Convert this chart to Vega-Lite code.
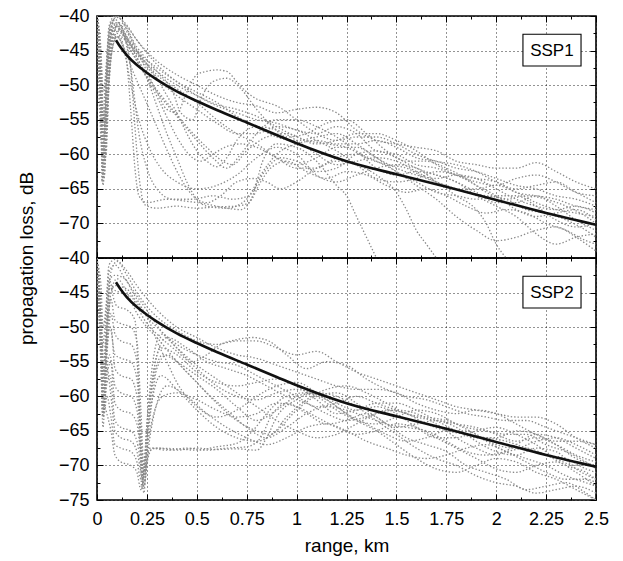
{
"$schema": "https://vega.github.io/schema/vega-lite/v6.json",
"autosize": {"type": "pad"},
"padding": {"left": 16, "top": 6, "right": 5, "bottom": 5},
"bounds": "flush",
"spacing": 0,
"config": {"view": {"stroke": "#000", "strokeWidth": 1.6}, "font": "Liberation Sans"},
"datasets": {
"k": [{"x":0.095,"y":-43.5},{"x":0.12,"y":-44.6},{"x":0.15,"y":-45.7},{"x":0.2,"y":-47.1},{"x":0.25,"y":-48.2},{"x":0.3,"y":-49.2},{"x":0.4,"y":-50.9},{"x":0.5,"y":-52.3},{"x":0.6,"y":-53.6},{"x":0.75,"y":-55.4},{"x":0.9,"y":-57.2},{"x":1.0,"y":-58.4},{"x":1.25,"y":-61.0},{"x":1.5,"y":-62.9},{"x":1.75,"y":-64.7},{"x":2.0,"y":-66.6},{"x":2.25,"y":-68.5},{"x":2.5,"y":-70.2}],
"t": [
{"c":1,"x":0,"y":-41},{"c":1,"x":0.01,"y":-46},{"c":1,"x":0.02,"y":-55},{"c":1,"x":0.03,"y":-62},{"c":1,"x":0.04,"y":-56},{"c":1,"x":0.05,"y":-47},{"c":1,"x":0.07,"y":-41},{"c":1,"x":0.1,"y":-40.2},{"c":1,"x":0.15,"y":-41.5},{"c":1,"x":0.2,"y":-43.5},{"c":1,"x":0.3,"y":-46.5},{"c":1,"x":0.4,"y":-48.5},{"c":1,"x":0.5,"y":-50},{"c":1,"x":0.6,"y":-51.5},{"c":1,"x":0.7,"y":-52.5},{"c":1,"x":0.8,"y":-53},{"c":1,"x":0.9,"y":-54},{"c":1,"x":1.0,"y":-53.5},{"c":1,"x":1.1,"y":-53.2},{"c":1,"x":1.2,"y":-54},{"c":1,"x":1.3,"y":-56.5},{"c":1,"x":1.4,"y":-58},{"c":1,"x":1.5,"y":-58.5},{"c":1,"x":1.6,"y":-59},{"c":1,"x":1.7,"y":-59.5},{"c":1,"x":1.8,"y":-61},{"c":1,"x":1.9,"y":-61.5},{"c":1,"x":2.0,"y":-62},{"c":1,"x":2.1,"y":-62},{"c":1,"x":2.2,"y":-61.2},{"c":1,"x":2.3,"y":-62.5},{"c":1,"x":2.4,"y":-64},{"c":1,"x":2.5,"y":-65},
{"c":2,"x":0,"y":-40},{"c":2,"x":0.01,"y":-44},{"c":2,"x":0.02,"y":-52},{"c":2,"x":0.025,"y":-64},{"c":2,"x":0.035,"y":-58},{"c":2,"x":0.05,"y":-49},{"c":2,"x":0.07,"y":-43},{"c":2,"x":0.1,"y":-41},{"c":2,"x":0.15,"y":-43},{"c":2,"x":0.2,"y":-45},{"c":2,"x":0.3,"y":-47.5},{"c":2,"x":0.4,"y":-49.5},{"c":2,"x":0.5,"y":-51.5},{"c":2,"x":0.6,"y":-53},{"c":2,"x":0.7,"y":-54},{"c":2,"x":0.8,"y":-55},{"c":2,"x":0.9,"y":-55.5},{"c":2,"x":1.0,"y":-56.5},{"c":2,"x":1.1,"y":-57},{"c":2,"x":1.2,"y":-56},{"c":2,"x":1.3,"y":-57},{"c":2,"x":1.4,"y":-59.5},{"c":2,"x":1.5,"y":-60},{"c":2,"x":1.6,"y":-61.5},{"c":2,"x":1.7,"y":-62},{"c":2,"x":1.8,"y":-63},{"c":2,"x":1.9,"y":-63.5},{"c":2,"x":2.0,"y":-64},{"c":2,"x":2.1,"y":-65.5},{"c":2,"x":2.2,"y":-66},{"c":2,"x":2.3,"y":-66.5},{"c":2,"x":2.4,"y":-67.5},{"c":2,"x":2.5,"y":-68},
{"c":3,"x":0,"y":-42},{"c":3,"x":0.015,"y":-50},{"c":3,"x":0.03,"y":-60},{"c":3,"x":0.045,"y":-52},{"c":3,"x":0.06,"y":-44},{"c":3,"x":0.09,"y":-40.5},{"c":3,"x":0.13,"y":-42},{"c":3,"x":0.2,"y":-46},{"c":3,"x":0.27,"y":-49.5},{"c":3,"x":0.35,"y":-52.5},{"c":3,"x":0.45,"y":-56},{"c":3,"x":0.55,"y":-59},{"c":3,"x":0.63,"y":-61},{"c":3,"x":0.68,"y":-61.5},{"c":3,"x":0.75,"y":-59.5},{"c":3,"x":0.85,"y":-57.5},{"c":3,"x":0.95,"y":-57},{"c":3,"x":1.05,"y":-58},{"c":3,"x":1.15,"y":-58.5},{"c":3,"x":1.25,"y":-59},{"c":3,"x":1.35,"y":-60.5},{"c":3,"x":1.45,"y":-61.5},{"c":3,"x":1.55,"y":-62},{"c":3,"x":1.65,"y":-63.5},{"c":3,"x":1.75,"y":-64.5},{"c":3,"x":1.85,"y":-65.5},{"c":3,"x":1.95,"y":-66},{"c":3,"x":2.05,"y":-66.5},{"c":3,"x":2.15,"y":-68},{"c":3,"x":2.25,"y":-68.5},{"c":3,"x":2.35,"y":-69.5},{"c":3,"x":2.45,"y":-71},{"c":3,"x":2.5,"y":-72},
{"c":4,"x":0,"y":-43},{"c":4,"x":0.02,"y":-58},{"c":4,"x":0.035,"y":-63},{"c":4,"x":0.05,"y":-55},{"c":4,"x":0.07,"y":-45},{"c":4,"x":0.1,"y":-41.5},{"c":4,"x":0.15,"y":-44},{"c":4,"x":0.22,"y":-47.5},{"c":4,"x":0.3,"y":-51},{"c":4,"x":0.4,"y":-54.5},{"c":4,"x":0.5,"y":-58},{"c":4,"x":0.58,"y":-60.5},{"c":4,"x":0.65,"y":-62},{"c":4,"x":0.72,"y":-60},{"c":4,"x":0.8,"y":-57},{"c":4,"x":0.9,"y":-55},{"c":4,"x":1.0,"y":-55},{"c":4,"x":1.1,"y":-56},{"c":4,"x":1.2,"y":-57.5},{"c":4,"x":1.3,"y":-59.5},{"c":4,"x":1.4,"y":-62},{"c":4,"x":1.5,"y":-63},{"c":4,"x":1.6,"y":-62.5},{"c":4,"x":1.7,"y":-63},{"c":4,"x":1.8,"y":-64},{"c":4,"x":1.9,"y":-65.5},{"c":4,"x":2.0,"y":-67},{"c":4,"x":2.1,"y":-67},{"c":4,"x":2.2,"y":-66},{"c":4,"x":2.3,"y":-67.5},{"c":4,"x":2.4,"y":-69.5},{"c":4,"x":2.5,"y":-71},
{"c":5,"x":0,"y":-40.5},{"c":5,"x":0.02,"y":-51},{"c":5,"x":0.035,"y":-60},{"c":5,"x":0.05,"y":-50},{"c":5,"x":0.08,"y":-42},{"c":5,"x":0.12,"y":-42},{"c":5,"x":0.15,"y":-44.5},{"c":5,"x":0.17,"y":-48},{"c":5,"x":0.19,"y":-56},{"c":5,"x":0.21,"y":-63},{"c":5,"x":0.24,"y":-67.3},{"c":5,"x":0.3,"y":-67.8},{"c":5,"x":0.4,"y":-67.5},{"c":5,"x":0.5,"y":-67.8},{"c":5,"x":0.6,"y":-67.6},{"c":5,"x":0.7,"y":-67.5},{"c":5,"x":0.76,"y":-67},{"c":5,"x":0.82,"y":-64},{"c":5,"x":0.87,"y":-62},{"c":5,"x":0.95,"y":-61},{"c":5,"x":1.05,"y":-62.5},{"c":5,"x":1.15,"y":-63.5},{"c":5,"x":1.25,"y":-62.5},{"c":5,"x":1.35,"y":-63},{"c":5,"x":1.45,"y":-64.5},{"c":5,"x":1.55,"y":-65.5},{"c":5,"x":1.65,"y":-65},{"c":5,"x":1.75,"y":-66},{"c":5,"x":1.85,"y":-67.5},{"c":5,"x":1.95,"y":-68.5},{"c":5,"x":2.05,"y":-68},{"c":5,"x":2.15,"y":-68.5},{"c":5,"x":2.25,"y":-70},{"c":5,"x":2.35,"y":-71},{"c":5,"x":2.45,"y":-72.5},{"c":5,"x":2.5,"y":-73},
{"c":6,"x":0,"y":-41.5},{"c":6,"x":0.02,"y":-53},{"c":6,"x":0.03,"y":-62},{"c":6,"x":0.045,"y":-54},{"c":6,"x":0.07,"y":-44},{"c":6,"x":0.1,"y":-42.5},{"c":6,"x":0.13,"y":-44},{"c":6,"x":0.15,"y":-47},{"c":6,"x":0.17,"y":-54},{"c":6,"x":0.19,"y":-62},{"c":6,"x":0.21,"y":-66},{"c":6,"x":0.25,"y":-67},{"c":6,"x":0.35,"y":-66.5},{"c":6,"x":0.45,"y":-66.8},{"c":6,"x":0.55,"y":-67.2},{"c":6,"x":0.65,"y":-67.8},{"c":6,"x":0.72,"y":-68},{"c":6,"x":0.78,"y":-66},{"c":6,"x":0.83,"y":-61},{"c":6,"x":0.9,"y":-58.5},{"c":6,"x":1.0,"y":-59},{"c":6,"x":1.1,"y":-61},{"c":6,"x":1.2,"y":-64.5},{"c":6,"x":1.25,"y":-66},{"c":6,"x":1.3,"y":-69},{"c":6,"x":1.35,"y":-72},{"c":6,"x":1.4,"y":-75},
{"c":7,"x":0,"y":-40},{"c":7,"x":0.015,"y":-47},{"c":7,"x":0.03,"y":-57},{"c":7,"x":0.04,"y":-61},{"c":7,"x":0.055,"y":-51},{"c":7,"x":0.08,"y":-43},{"c":7,"x":0.11,"y":-41},{"c":7,"x":0.15,"y":-43.5},{"c":7,"x":0.2,"y":-46},{"c":7,"x":0.25,"y":-49},{"c":7,"x":0.3,"y":-53},{"c":7,"x":0.35,"y":-57},{"c":7,"x":0.4,"y":-60.5},{"c":7,"x":0.45,"y":-64},{"c":7,"x":0.5,"y":-66.5},{"c":7,"x":0.55,"y":-67.5},{"c":7,"x":0.65,"y":-67.8},{"c":7,"x":0.75,"y":-66.5},{"c":7,"x":0.82,"y":-63},{"c":7,"x":0.9,"y":-60},{"c":7,"x":1.0,"y":-58.5},{"c":7,"x":1.1,"y":-58},{"c":7,"x":1.2,"y":-58.5},{"c":7,"x":1.3,"y":-58.5},{"c":7,"x":1.4,"y":-58},{"c":7,"x":1.5,"y":-59},{"c":7,"x":1.6,"y":-60.5},{"c":7,"x":1.7,"y":-61},{"c":7,"x":1.8,"y":-62},{"c":7,"x":1.9,"y":-62.5},{"c":7,"x":2.0,"y":-63.5},{"c":7,"x":2.1,"y":-64.5},{"c":7,"x":2.2,"y":-65},{"c":7,"x":2.3,"y":-66},{"c":7,"x":2.4,"y":-66.5},{"c":7,"x":2.5,"y":-67.5},
{"c":8,"x":0,"y":-41},{"c":8,"x":0.02,"y":-49},{"c":8,"x":0.035,"y":-58},{"c":8,"x":0.05,"y":-53},{"c":8,"x":0.07,"y":-46},{"c":8,"x":0.1,"y":-43},{"c":8,"x":0.14,"y":-45},{"c":8,"x":0.18,"y":-48},{"c":8,"x":0.24,"y":-52},{"c":8,"x":0.3,"y":-56},{"c":8,"x":0.36,"y":-60},{"c":8,"x":0.42,"y":-63.5},{"c":8,"x":0.48,"y":-66},{"c":8,"x":0.55,"y":-67},{"c":8,"x":0.62,"y":-66},{"c":8,"x":0.7,"y":-64},{"c":8,"x":0.78,"y":-63.5},{"c":8,"x":0.85,"y":-64},{"c":8,"x":0.92,"y":-65},{"c":8,"x":1.0,"y":-64},{"c":8,"x":1.1,"y":-62},{"c":8,"x":1.2,"y":-61},{"c":8,"x":1.3,"y":-61.5},{"c":8,"x":1.4,"y":-63},{"c":8,"x":1.5,"y":-65.5},{"c":8,"x":1.55,"y":-68},{"c":8,"x":1.6,"y":-71},{"c":8,"x":1.65,"y":-73},{"c":8,"x":1.7,"y":-75},
{"c":9,"x":0,"y":-40},{"c":9,"x":0.01,"y":-42},{"c":9,"x":0.02,"y":-48},{"c":9,"x":0.03,"y":-55},{"c":9,"x":0.04,"y":-50},{"c":9,"x":0.06,"y":-43},{"c":9,"x":0.1,"y":-40},{"c":9,"x":0.15,"y":-42},{"c":9,"x":0.2,"y":-45},{"c":9,"x":0.25,"y":-48},{"c":9,"x":0.3,"y":-51},{"c":9,"x":0.35,"y":-53.5},{"c":9,"x":0.4,"y":-54},{"c":9,"x":0.45,"y":-51},{"c":9,"x":0.5,"y":-48.5},{"c":9,"x":0.55,"y":-48},{"c":9,"x":0.6,"y":-47.8},{"c":9,"x":0.65,"y":-48},{"c":9,"x":0.7,"y":-49.5},{"c":9,"x":0.75,"y":-51},{"c":9,"x":0.8,"y":-52},{"c":9,"x":0.85,"y":-52.5},{"c":9,"x":0.9,"y":-53},{"c":9,"x":1.0,"y":-55},{"c":9,"x":1.1,"y":-57},{"c":9,"x":1.2,"y":-58},{"c":9,"x":1.3,"y":-57.5},{"c":9,"x":1.4,"y":-57.5},{"c":9,"x":1.5,"y":-58.5},{"c":9,"x":1.6,"y":-60},{"c":9,"x":1.7,"y":-61},{"c":9,"x":1.8,"y":-61.5},{"c":9,"x":1.9,"y":-62.5},{"c":9,"x":2.0,"y":-64},{"c":9,"x":2.1,"y":-65},{"c":9,"x":2.2,"y":-64.5},{"c":9,"x":2.3,"y":-64},{"c":9,"x":2.4,"y":-65.5},{"c":9,"x":2.5,"y":-67},
{"c":10,"x":0,"y":-40.5},{"c":10,"x":0.02,"y":-46},{"c":10,"x":0.035,"y":-56},{"c":10,"x":0.05,"y":-48},{"c":10,"x":0.08,"y":-41},{"c":10,"x":0.12,"y":-41},{"c":10,"x":0.2,"y":-44.5},{"c":10,"x":0.3,"y":-48},{"c":10,"x":0.38,"y":-51},{"c":10,"x":0.42,"y":-54},{"c":10,"x":0.48,"y":-55},{"c":10,"x":0.52,"y":-52},{"c":10,"x":0.58,"y":-49.5},{"c":10,"x":0.65,"y":-49},{"c":10,"x":0.72,"y":-50.5},{"c":10,"x":0.8,"y":-53.5},{"c":10,"x":0.88,"y":-56},{"c":10,"x":0.95,"y":-57.5},{"c":10,"x":1.05,"y":-57},{"c":10,"x":1.15,"y":-55.5},{"c":10,"x":1.25,"y":-55},{"c":10,"x":1.35,"y":-57},{"c":10,"x":1.45,"y":-59.5},{"c":10,"x":1.55,"y":-61},{"c":10,"x":1.65,"y":-61},{"c":10,"x":1.75,"y":-62},{"c":10,"x":1.85,"y":-63.5},{"c":10,"x":1.95,"y":-65.5},{"c":10,"x":2.05,"y":-66.5},{"c":10,"x":2.15,"y":-66},{"c":10,"x":2.25,"y":-66.5},{"c":10,"x":2.35,"y":-67.5},{"c":10,"x":2.45,"y":-69},{"c":10,"x":2.5,"y":-70},
{"c":11,"x":0,"y":-42},{"c":11,"x":0.02,"y":-54},{"c":11,"x":0.03,"y":-64.5},{"c":11,"x":0.045,"y":-57},{"c":11,"x":0.065,"y":-47},{"c":11,"x":0.1,"y":-43},{"c":11,"x":0.14,"y":-45.5},{"c":11,"x":0.17,"y":-50},{"c":11,"x":0.21,"y":-55},{"c":11,"x":0.26,"y":-59},{"c":11,"x":0.32,"y":-62},{"c":11,"x":0.4,"y":-64},{"c":11,"x":0.5,"y":-65},{"c":11,"x":0.6,"y":-64.5},{"c":11,"x":0.7,"y":-63},{"c":11,"x":0.8,"y":-60.5},{"c":11,"x":0.9,"y":-59},{"c":11,"x":1.0,"y":-60},{"c":11,"x":1.1,"y":-63},{"c":11,"x":1.2,"y":-64},{"c":11,"x":1.3,"y":-63},{"c":11,"x":1.4,"y":-62},{"c":11,"x":1.5,"y":-61.5},{"c":11,"x":1.6,"y":-62},{"c":11,"x":1.7,"y":-64},{"c":11,"x":1.8,"y":-66},{"c":11,"x":1.9,"y":-68},{"c":11,"x":1.95,"y":-70},{"c":11,"x":2.0,"y":-73},{"c":11,"x":2.05,"y":-75},
{"c":12,"x":0,"y":-40},{"c":12,"x":0.02,"y":-50},{"c":12,"x":0.03,"y":-58},{"c":12,"x":0.05,"y":-49},{"c":12,"x":0.08,"y":-41.5},{"c":12,"x":0.12,"y":-41.5},{"c":12,"x":0.2,"y":-45},{"c":12,"x":0.3,"y":-48.5},{"c":12,"x":0.4,"y":-50.5},{"c":12,"x":0.5,"y":-52.5},{"c":12,"x":0.6,"y":-55},{"c":12,"x":0.7,"y":-57},{"c":12,"x":0.8,"y":-58.5},{"c":12,"x":0.9,"y":-60.5},{"c":12,"x":1.0,"y":-62},{"c":12,"x":1.1,"y":-62},{"c":12,"x":1.2,"y":-60.5},{"c":12,"x":1.3,"y":-60},{"c":12,"x":1.4,"y":-61},{"c":12,"x":1.5,"y":-62.5},{"c":12,"x":1.6,"y":-64.5},{"c":12,"x":1.7,"y":-66.5},{"c":12,"x":1.8,"y":-69},{"c":12,"x":1.9,"y":-71},{"c":12,"x":2.0,"y":-72.5},{"c":12,"x":2.1,"y":-72},{"c":12,"x":2.2,"y":-71},{"c":12,"x":2.3,"y":-70.5},{"c":12,"x":2.4,"y":-72},{"c":12,"x":2.5,"y":-74},
{"c":13,"x":0,"y":-40},{"c":13,"x":0.015,"y":-45},{"c":13,"x":0.025,"y":-52},{"c":13,"x":0.035,"y":-55},{"c":13,"x":0.05,"y":-46},{"c":13,"x":0.07,"y":-41},{"c":13,"x":0.12,"y":-42},{"c":13,"x":0.2,"y":-45.5},{"c":13,"x":0.3,"y":-48},{"c":13,"x":0.4,"y":-50},{"c":13,"x":0.5,"y":-51.5},{"c":13,"x":0.6,"y":-52.8},{"c":13,"x":0.7,"y":-53.5},{"c":13,"x":0.8,"y":-54.5},{"c":13,"x":0.9,"y":-56},{"c":13,"x":1.0,"y":-57.5},{"c":13,"x":1.1,"y":-58.5},{"c":13,"x":1.2,"y":-58},{"c":13,"x":1.3,"y":-57},{"c":13,"x":1.4,"y":-57},{"c":13,"x":1.5,"y":-58},{"c":13,"x":1.6,"y":-59.5},{"c":13,"x":1.7,"y":-61.5},{"c":13,"x":1.8,"y":-63},{"c":13,"x":1.9,"y":-64},{"c":13,"x":2.0,"y":-64.5},{"c":13,"x":2.1,"y":-63.5},{"c":13,"x":2.2,"y":-63},{"c":13,"x":2.3,"y":-64},{"c":13,"x":2.4,"y":-65.5},{"c":13,"x":2.5,"y":-66},
{"c":14,"x":0,"y":-41},{"c":14,"x":0.02,"y":-53},{"c":14,"x":0.03,"y":-61},{"c":14,"x":0.04,"y":-59},{"c":14,"x":0.055,"y":-48},{"c":14,"x":0.08,"y":-42},{"c":14,"x":0.12,"y":-42.5},{"c":14,"x":0.18,"y":-44.5},{"c":14,"x":0.25,"y":-47},{"c":14,"x":0.3,"y":-49},{"c":14,"x":0.35,"y":-51.5},{"c":14,"x":0.4,"y":-54},{"c":14,"x":0.45,"y":-57},{"c":14,"x":0.5,"y":-59.5},{"c":14,"x":0.55,"y":-61},{"c":14,"x":0.6,"y":-61.8},{"c":14,"x":0.65,"y":-60.5},{"c":14,"x":0.7,"y":-58},{"c":14,"x":0.8,"y":-56},{"c":14,"x":0.9,"y":-56.5},{"c":14,"x":1.0,"y":-58},{"c":14,"x":1.1,"y":-60},{"c":14,"x":1.2,"y":-61.5},{"c":14,"x":1.3,"y":-61},{"c":14,"x":1.4,"y":-60.5},{"c":14,"x":1.5,"y":-61},{"c":14,"x":1.6,"y":-62.5},{"c":14,"x":1.7,"y":-64},{"c":14,"x":1.8,"y":-65},{"c":14,"x":1.9,"y":-65},{"c":14,"x":2.0,"y":-64.5},{"c":14,"x":2.1,"y":-65.5},{"c":14,"x":2.2,"y":-67},{"c":14,"x":2.3,"y":-68},{"c":14,"x":2.4,"y":-68.5},{"c":14,"x":2.5,"y":-69},
{"c":15,"x":0,"y":-40.5},{"c":15,"x":0.02,"y":-48},{"c":15,"x":0.03,"y":-56},{"c":15,"x":0.045,"y":-60},{"c":15,"x":0.06,"y":-50},{"c":15,"x":0.08,"y":-43},{"c":15,"x":0.12,"y":-43},{"c":15,"x":0.17,"y":-45},{"c":15,"x":0.22,"y":-47.5},{"c":15,"x":0.28,"y":-50.5},{"c":15,"x":0.34,"y":-54},{"c":15,"x":0.4,"y":-57.5},{"c":15,"x":0.46,"y":-60},{"c":15,"x":0.52,"y":-61},{"c":15,"x":0.58,"y":-60},{"c":15,"x":0.64,"y":-59},{"c":15,"x":0.72,"y":-58.5},{"c":15,"x":0.8,"y":-59},{"c":15,"x":0.9,"y":-60.5},{"c":15,"x":1.0,"y":-61.5},{"c":15,"x":1.1,"y":-60.5},{"c":15,"x":1.2,"y":-59},{"c":15,"x":1.3,"y":-59},{"c":15,"x":1.4,"y":-60.5},{"c":15,"x":1.5,"y":-62.5},{"c":15,"x":1.6,"y":-64},{"c":15,"x":1.7,"y":-65.5},{"c":15,"x":1.8,"y":-66},{"c":15,"x":1.9,"y":-66.5},{"c":15,"x":2.0,"y":-66},{"c":15,"x":2.1,"y":-66},{"c":15,"x":2.2,"y":-67.5},{"c":15,"x":2.3,"y":-69.5},{"c":15,"x":2.4,"y":-70.5},{"c":15,"x":2.5,"y":-70},
{"c":16,"x":0,"y":-42},{"c":16,"x":0.02,"y":-52},{"c":16,"x":0.035,"y":-63.5},{"c":16,"x":0.05,"y":-56},{"c":16,"x":0.065,"y":-46},{"c":16,"x":0.09,"y":-41.5},{"c":16,"x":0.14,"y":-43},{"c":16,"x":0.2,"y":-45.5},{"c":16,"x":0.3,"y":-49},{"c":16,"x":0.4,"y":-51.5},{"c":16,"x":0.5,"y":-53.5},{"c":16,"x":0.6,"y":-55.5},{"c":16,"x":0.7,"y":-57},{"c":16,"x":0.8,"y":-57},{"c":16,"x":0.9,"y":-56},{"c":16,"x":1.0,"y":-56.5},{"c":16,"x":1.1,"y":-58},{"c":16,"x":1.2,"y":-59.5},{"c":16,"x":1.3,"y":-61.5},{"c":16,"x":1.4,"y":-63.5},{"c":16,"x":1.5,"y":-64},{"c":16,"x":1.6,"y":-63.5},{"c":16,"x":1.7,"y":-62.5},{"c":16,"x":1.8,"y":-63},{"c":16,"x":1.9,"y":-64.5},{"c":16,"x":2.0,"y":-66},{"c":16,"x":2.1,"y":-68},{"c":16,"x":2.2,"y":-69},{"c":16,"x":2.3,"y":-68.5},{"c":16,"x":2.4,"y":-68},{"c":16,"x":2.5,"y":-69.5},
{"c":17,"x":0,"y":-40},{"c":17,"x":0.02,"y":-45},{"c":17,"x":0.03,"y":-51},{"c":17,"x":0.045,"y":-48},{"c":17,"x":0.06,"y":-41.5},{"c":17,"x":0.09,"y":-40},{"c":17,"x":0.14,"y":-41},{"c":17,"x":0.2,"y":-43.5},{"c":17,"x":0.3,"y":-47},{"c":17,"x":0.4,"y":-49.5},{"c":17,"x":0.5,"y":-51},{"c":17,"x":0.6,"y":-52.5},{"c":17,"x":0.7,"y":-54.5},{"c":17,"x":0.8,"y":-56},{"c":17,"x":0.9,"y":-57.5},{"c":17,"x":1.0,"y":-58},{"c":17,"x":1.1,"y":-57.5},{"c":17,"x":1.2,"y":-57},{"c":17,"x":1.3,"y":-58.5},{"c":17,"x":1.4,"y":-60.5},{"c":17,"x":1.5,"y":-62},{"c":17,"x":1.6,"y":-63},{"c":17,"x":1.7,"y":-63.5},{"c":17,"x":1.8,"y":-63},{"c":17,"x":1.9,"y":-63.5},{"c":17,"x":2.0,"y":-65},{"c":17,"x":2.1,"y":-66.5},{"c":17,"x":2.2,"y":-67.5},{"c":17,"x":2.3,"y":-68},{"c":17,"x":2.4,"y":-67.5},{"c":17,"x":2.5,"y":-68.5},
{"c":18,"x":0,"y":-41.5},{"c":18,"x":0.02,"y":-55},{"c":18,"x":0.03,"y":-63},{"c":18,"x":0.045,"y":-58},{"c":18,"x":0.06,"y":-50},{"c":18,"x":0.08,"y":-44},{"c":18,"x":0.11,"y":-42},{"c":18,"x":0.15,"y":-44},{"c":18,"x":0.18,"y":-50},{"c":18,"x":0.21,"y":-57},{"c":18,"x":0.25,"y":-62},{"c":18,"x":0.3,"y":-65},{"c":18,"x":0.38,"y":-66.5},{"c":18,"x":0.48,"y":-66.5},{"c":18,"x":0.58,"y":-66},{"c":18,"x":0.68,"y":-66.5},{"c":18,"x":0.76,"y":-66},{"c":18,"x":0.84,"y":-62.5},{"c":18,"x":0.92,"y":-60.5},{"c":18,"x":1.0,"y":-61},{"c":18,"x":1.1,"y":-62.5},{"c":18,"x":1.2,"y":-62},{"c":18,"x":1.3,"y":-60},{"c":18,"x":1.4,"y":-59.5},{"c":18,"x":1.5,"y":-60.5},{"c":18,"x":1.6,"y":-62},{"c":18,"x":1.7,"y":-63},{"c":18,"x":1.8,"y":-64},{"c":18,"x":1.9,"y":-66},{"c":18,"x":2.0,"y":-67.5},{"c":18,"x":2.1,"y":-69},{"c":18,"x":2.2,"y":-71.5},{"c":18,"x":2.3,"y":-73},{"c":18,"x":2.4,"y":-72},{"c":18,"x":2.5,"y":-71.5}
],
"b": [
{"c":1,"x":0,"y":-40.5},{"c":1,"x":0.02,"y":-50},{"c":1,"x":0.035,"y":-60},{"c":1,"x":0.05,"y":-50},{"c":1,"x":0.07,"y":-42},{"c":1,"x":0.1,"y":-40.5},{"c":1,"x":0.15,"y":-42.5},{"c":1,"x":0.2,"y":-45},{"c":1,"x":0.25,"y":-47},{"c":1,"x":0.3,"y":-48.5},{"c":1,"x":0.4,"y":-50.5},{"c":1,"x":0.5,"y":-52},{"c":1,"x":0.6,"y":-52.5},{"c":1,"x":0.7,"y":-52},{"c":1,"x":0.8,"y":-52},{"c":1,"x":0.9,"y":-53},{"c":1,"x":1.0,"y":-54},{"c":1,"x":1.1,"y":-53.5},{"c":1,"x":1.2,"y":-55},{"c":1,"x":1.3,"y":-56.5},{"c":1,"x":1.4,"y":-57.5},{"c":1,"x":1.5,"y":-58.5},{"c":1,"x":1.6,"y":-59.5},{"c":1,"x":1.7,"y":-60.5},{"c":1,"x":1.8,"y":-61.5},{"c":1,"x":1.9,"y":-62},{"c":1,"x":2.0,"y":-62.5},{"c":1,"x":2.1,"y":-63},{"c":1,"x":2.2,"y":-63},{"c":1,"x":2.3,"y":-64},{"c":1,"x":2.4,"y":-66},{"c":1,"x":2.5,"y":-67.5},
{"c":2,"x":0,"y":-41},{"c":2,"x":0.02,"y":-54},{"c":2,"x":0.03,"y":-63},{"c":2,"x":0.045,"y":-55},{"c":2,"x":0.07,"y":-45},{"c":2,"x":0.09,"y":-44},{"c":2,"x":0.15,"y":-44.5},{"c":2,"x":0.2,"y":-46.5},{"c":2,"x":0.25,"y":-48.5},{"c":2,"x":0.3,"y":-50},{"c":2,"x":0.4,"y":-52.5},{"c":2,"x":0.5,"y":-54},{"c":2,"x":0.6,"y":-55},{"c":2,"x":0.7,"y":-55.5},{"c":2,"x":0.8,"y":-57},{"c":2,"x":0.9,"y":-58.5},{"c":2,"x":1.0,"y":-60},{"c":2,"x":1.1,"y":-61.5},{"c":2,"x":1.2,"y":-61},{"c":2,"x":1.3,"y":-60},{"c":2,"x":1.4,"y":-61},{"c":2,"x":1.5,"y":-62},{"c":2,"x":1.6,"y":-63},{"c":2,"x":1.7,"y":-63.5},{"c":2,"x":1.8,"y":-64},{"c":2,"x":1.9,"y":-64.5},{"c":2,"x":2.0,"y":-65.5},{"c":2,"x":2.1,"y":-66.5},{"c":2,"x":2.2,"y":-66},{"c":2,"x":2.3,"y":-67},{"c":2,"x":2.4,"y":-68.5},{"c":2,"x":2.5,"y":-69.5},
{"c":3,"x":0,"y":-40},{"c":3,"x":0.015,"y":-46},{"c":3,"x":0.03,"y":-58},{"c":3,"x":0.045,"y":-52},{"c":3,"x":0.065,"y":-44},{"c":3,"x":0.085,"y":-46},{"c":3,"x":0.1,"y":-47},{"c":3,"x":0.15,"y":-47.5},{"c":3,"x":0.19,"y":-49},{"c":3,"x":0.21,"y":-60},{"c":3,"x":0.225,"y":-73.5},{"c":3,"x":0.24,"y":-69},{"c":3,"x":0.27,"y":-67.5},{"c":3,"x":0.35,"y":-67.8},{"c":3,"x":0.45,"y":-67.5},{"c":3,"x":0.55,"y":-67.8},{"c":3,"x":0.65,"y":-67.5},{"c":3,"x":0.75,"y":-67.3},{"c":3,"x":0.82,"y":-66},{"c":3,"x":0.87,"y":-63},{"c":3,"x":0.95,"y":-61},{"c":3,"x":1.05,"y":-62.5},{"c":3,"x":1.15,"y":-64},{"c":3,"x":1.25,"y":-63.5},{"c":3,"x":1.35,"y":-62.5},{"c":3,"x":1.45,"y":-64},{"c":3,"x":1.55,"y":-66},{"c":3,"x":1.65,"y":-67},{"c":3,"x":1.75,"y":-68},{"c":3,"x":1.85,"y":-70},{"c":3,"x":1.95,"y":-71},{"c":3,"x":2.05,"y":-72},{"c":3,"x":2.15,"y":-73.5},{"c":3,"x":2.25,"y":-73},{"c":3,"x":2.35,"y":-72.5},{"c":3,"x":2.45,"y":-74},{"c":3,"x":2.5,"y":-75},
{"c":4,"x":0,"y":-41.5},{"c":4,"x":0.02,"y":-52},{"c":4,"x":0.035,"y":-62},{"c":4,"x":0.05,"y":-54},{"c":4,"x":0.07,"y":-48},{"c":4,"x":0.09,"y":-51},{"c":4,"x":0.12,"y":-52},{"c":4,"x":0.17,"y":-52.5},{"c":4,"x":0.2,"y":-55},{"c":4,"x":0.22,"y":-65},{"c":4,"x":0.235,"y":-71},{"c":4,"x":0.25,"y":-66},{"c":4,"x":0.28,"y":-60},{"c":4,"x":0.32,"y":-57},{"c":4,"x":0.4,"y":-59},{"c":4,"x":0.5,"y":-62},{"c":4,"x":0.6,"y":-64.5},{"c":4,"x":0.7,"y":-66},{"c":4,"x":0.8,"y":-66.5},{"c":4,"x":0.9,"y":-65},{"c":4,"x":1.0,"y":-62},{"c":4,"x":1.1,"y":-60},{"c":4,"x":1.2,"y":-59.5},{"c":4,"x":1.3,"y":-61},{"c":4,"x":1.4,"y":-63},{"c":4,"x":1.5,"y":-64.5},{"c":4,"x":1.6,"y":-64},{"c":4,"x":1.7,"y":-63.5},{"c":4,"x":1.8,"y":-64.5},{"c":4,"x":1.9,"y":-66.5},{"c":4,"x":2.0,"y":-68},{"c":4,"x":2.1,"y":-68.5},{"c":4,"x":2.2,"y":-67.5},{"c":4,"x":2.3,"y":-68},{"c":4,"x":2.4,"y":-70.5},{"c":4,"x":2.5,"y":-72},
{"c":5,"x":0,"y":-40},{"c":5,"x":0.02,"y":-49},{"c":5,"x":0.035,"y":-59},{"c":5,"x":0.05,"y":-51},{"c":5,"x":0.07,"y":-50},{"c":5,"x":0.09,"y":-56},{"c":5,"x":0.12,"y":-57},{"c":5,"x":0.17,"y":-57.5},{"c":5,"x":0.2,"y":-60},{"c":5,"x":0.22,"y":-67},{"c":5,"x":0.23,"y":-72},{"c":5,"x":0.25,"y":-64},{"c":5,"x":0.28,"y":-55},{"c":5,"x":0.32,"y":-51},{"c":5,"x":0.4,"y":-53},{"c":5,"x":0.5,"y":-55.5},{"c":5,"x":0.6,"y":-57.5},{"c":5,"x":0.7,"y":-59.5},{"c":5,"x":0.8,"y":-61.5},{"c":5,"x":0.9,"y":-63.5},{"c":5,"x":1.0,"y":-65},{"c":5,"x":1.1,"y":-66},{"c":5,"x":1.2,"y":-65.5},{"c":5,"x":1.3,"y":-64},{"c":5,"x":1.4,"y":-62.5},{"c":5,"x":1.5,"y":-62},{"c":5,"x":1.6,"y":-62.5},{"c":5,"x":1.7,"y":-64},{"c":5,"x":1.8,"y":-66},{"c":5,"x":1.9,"y":-67.5},{"c":5,"x":2.0,"y":-68.5},{"c":5,"x":2.1,"y":-67},{"c":5,"x":2.2,"y":-65.5},{"c":5,"x":2.3,"y":-66},{"c":5,"x":2.4,"y":-67.5},{"c":5,"x":2.5,"y":-69},
{"c":6,"x":0,"y":-42},{"c":6,"x":0.02,"y":-56},{"c":6,"x":0.03,"y":-64.5},{"c":6,"x":0.045,"y":-57},{"c":6,"x":0.065,"y":-54},{"c":6,"x":0.09,"y":-61},{"c":6,"x":0.12,"y":-62},{"c":6,"x":0.17,"y":-62.5},{"c":6,"x":0.2,"y":-64},{"c":6,"x":0.22,"y":-69},{"c":6,"x":0.235,"y":-74},{"c":6,"x":0.25,"y":-67},{"c":6,"x":0.27,"y":-60},{"c":6,"x":0.3,"y":-54},{"c":6,"x":0.35,"y":-51.5},{"c":6,"x":0.45,"y":-53},{"c":6,"x":0.55,"y":-55},{"c":6,"x":0.65,"y":-56},{"c":6,"x":0.75,"y":-57},{"c":6,"x":0.85,"y":-58.5},{"c":6,"x":0.95,"y":-60},{"c":6,"x":1.05,"y":-61},{"c":6,"x":1.15,"y":-62.5},{"c":6,"x":1.25,"y":-63.5},{"c":6,"x":1.35,"y":-63},{"c":6,"x":1.45,"y":-62},{"c":6,"x":1.55,"y":-62.5},{"c":6,"x":1.65,"y":-64},{"c":6,"x":1.75,"y":-65},{"c":6,"x":1.85,"y":-65.5},{"c":6,"x":1.95,"y":-66},{"c":6,"x":2.05,"y":-66.5},{"c":6,"x":2.15,"y":-67.5},{"c":6,"x":2.25,"y":-68.5},{"c":6,"x":2.35,"y":-69},{"c":6,"x":2.45,"y":-70.5},{"c":6,"x":2.5,"y":-71},
{"c":7,"x":0,"y":-40.5},{"c":7,"x":0.02,"y":-47},{"c":7,"x":0.035,"y":-57},{"c":7,"x":0.05,"y":-56},{"c":7,"x":0.07,"y":-60},{"c":7,"x":0.09,"y":-65},{"c":7,"x":0.12,"y":-66},{"c":7,"x":0.17,"y":-66.5},{"c":7,"x":0.2,"y":-68},{"c":7,"x":0.22,"y":-71},{"c":7,"x":0.235,"y":-73},{"c":7,"x":0.26,"y":-68},{"c":7,"x":0.3,"y":-67.5},{"c":7,"x":0.4,"y":-67.8},{"c":7,"x":0.5,"y":-67.5},{"c":7,"x":0.6,"y":-67.7},{"c":7,"x":0.7,"y":-67.6},{"c":7,"x":0.8,"y":-67.8},{"c":7,"x":0.85,"y":-66},{"c":7,"x":0.9,"y":-63},{"c":7,"x":1.0,"y":-60.5},{"c":7,"x":1.1,"y":-59.5},{"c":7,"x":1.2,"y":-60},{"c":7,"x":1.3,"y":-61.5},{"c":7,"x":1.4,"y":-63.5},{"c":7,"x":1.5,"y":-65.5},{"c":7,"x":1.6,"y":-67.5},{"c":7,"x":1.7,"y":-69},{"c":7,"x":1.8,"y":-70},{"c":7,"x":1.9,"y":-71.5},{"c":7,"x":2.0,"y":-72.5},{"c":7,"x":2.1,"y":-73},{"c":7,"x":2.2,"y":-74},{"c":7,"x":2.3,"y":-73.5},{"c":7,"x":2.4,"y":-73},{"c":7,"x":2.5,"y":-74},
{"c":8,"x":0,"y":-41},{"c":8,"x":0.02,"y":-50},{"c":8,"x":0.03,"y":-60},{"c":8,"x":0.045,"y":-62},{"c":8,"x":0.07,"y":-65},{"c":8,"x":0.09,"y":-68.5},{"c":8,"x":0.12,"y":-69.5},{"c":8,"x":0.17,"y":-70},{"c":8,"x":0.2,"y":-71},{"c":8,"x":0.22,"y":-73.5},{"c":8,"x":0.24,"y":-70},{"c":8,"x":0.27,"y":-62},{"c":8,"x":0.3,"y":-56},{"c":8,"x":0.35,"y":-54},{"c":8,"x":0.45,"y":-56.5},{"c":8,"x":0.55,"y":-59.5},{"c":8,"x":0.65,"y":-62},{"c":8,"x":0.75,"y":-64.5},{"c":8,"x":0.85,"y":-66},{"c":8,"x":0.95,"y":-64.5},{"c":8,"x":1.05,"y":-62.5},{"c":8,"x":1.15,"y":-61.5},{"c":8,"x":1.25,"y":-62},{"c":8,"x":1.35,"y":-63},{"c":8,"x":1.45,"y":-64},{"c":8,"x":1.55,"y":-64.5},{"c":8,"x":1.65,"y":-65},{"c":8,"x":1.75,"y":-66.5},{"c":8,"x":1.85,"y":-68},{"c":8,"x":1.95,"y":-68.5},{"c":8,"x":2.05,"y":-68},{"c":8,"x":2.15,"y":-67.5},{"c":8,"x":2.25,"y":-68.5},{"c":8,"x":2.35,"y":-70},{"c":8,"x":2.45,"y":-71},{"c":8,"x":2.5,"y":-72},
{"c":9,"x":0,"y":-40},{"c":9,"x":0.01,"y":-43},{"c":9,"x":0.025,"y":-53},{"c":9,"x":0.04,"y":-50},{"c":9,"x":0.06,"y":-42},{"c":9,"x":0.09,"y":-41},{"c":9,"x":0.14,"y":-43},{"c":9,"x":0.2,"y":-45.5},{"c":9,"x":0.26,"y":-48},{"c":9,"x":0.32,"y":-50.5},{"c":9,"x":0.4,"y":-53},{"c":9,"x":0.48,"y":-55},{"c":9,"x":0.55,"y":-54},{"c":9,"x":0.62,"y":-52.5},{"c":9,"x":0.7,"y":-51.8},{"c":9,"x":0.78,"y":-51.5},{"c":9,"x":0.86,"y":-52},{"c":9,"x":0.95,"y":-54},{"c":9,"x":1.05,"y":-56},{"c":9,"x":1.15,"y":-55},{"c":9,"x":1.25,"y":-55.5},{"c":9,"x":1.35,"y":-57.5},{"c":9,"x":1.45,"y":-59},{"c":9,"x":1.55,"y":-60},{"c":9,"x":1.65,"y":-60.5},{"c":9,"x":1.75,"y":-61.5},{"c":9,"x":1.85,"y":-62.5},{"c":9,"x":1.95,"y":-63},{"c":9,"x":2.05,"y":-63.5},{"c":9,"x":2.15,"y":-63.5},{"c":9,"x":2.25,"y":-64.5},{"c":9,"x":2.35,"y":-65.5},{"c":9,"x":2.45,"y":-66.5},{"c":9,"x":2.5,"y":-67},
{"c":10,"x":0,"y":-41},{"c":10,"x":0.02,"y":-52},{"c":10,"x":0.035,"y":-61},{"c":10,"x":0.05,"y":-53},{"c":10,"x":0.07,"y":-45},{"c":10,"x":0.1,"y":-43},{"c":10,"x":0.15,"y":-45},{"c":10,"x":0.2,"y":-48},{"c":10,"x":0.25,"y":-50},{"c":10,"x":0.3,"y":-51.5},{"c":10,"x":0.4,"y":-55},{"c":10,"x":0.5,"y":-58},{"c":10,"x":0.6,"y":-61},{"c":10,"x":0.7,"y":-63.5},{"c":10,"x":0.8,"y":-65},{"c":10,"x":0.87,"y":-65.5},{"c":10,"x":0.95,"y":-63},{"c":10,"x":1.05,"y":-60.5},{"c":10,"x":1.15,"y":-59},{"c":10,"x":1.25,"y":-58.5},{"c":10,"x":1.35,"y":-59.5},{"c":10,"x":1.45,"y":-61},{"c":10,"x":1.55,"y":-62.5},{"c":10,"x":1.65,"y":-63},{"c":10,"x":1.75,"y":-63.5},{"c":10,"x":1.85,"y":-64.5},{"c":10,"x":1.95,"y":-65},{"c":10,"x":2.05,"y":-65.5},{"c":10,"x":2.15,"y":-65.5},{"c":10,"x":2.25,"y":-67},{"c":10,"x":2.35,"y":-68},{"c":10,"x":2.45,"y":-69.5},{"c":10,"x":2.5,"y":-70.5},
{"c":11,"x":0,"y":-40},{"c":11,"x":0.02,"y":-55},{"c":11,"x":0.03,"y":-63},{"c":11,"x":0.045,"y":-53},{"c":11,"x":0.065,"y":-43},{"c":11,"x":0.09,"y":-42.5},{"c":11,"x":0.14,"y":-43},{"c":11,"x":0.18,"y":-45},{"c":11,"x":0.22,"y":-47},{"c":11,"x":0.26,"y":-49},{"c":11,"x":0.3,"y":-52},{"c":11,"x":0.35,"y":-55},{"c":11,"x":0.4,"y":-58},{"c":11,"x":0.5,"y":-61.5},{"c":11,"x":0.6,"y":-63},{"c":11,"x":0.7,"y":-62},{"c":11,"x":0.8,"y":-60},{"c":11,"x":0.9,"y":-58.5},{"c":11,"x":1.0,"y":-58},{"c":11,"x":1.1,"y":-59.5},{"c":11,"x":1.2,"y":-61.5},{"c":11,"x":1.3,"y":-63.5},{"c":11,"x":1.4,"y":-65},{"c":11,"x":1.5,"y":-67},{"c":11,"x":1.6,"y":-69},{"c":11,"x":1.7,"y":-70.5},{"c":11,"x":1.8,"y":-71},{"c":11,"x":1.9,"y":-70},{"c":11,"x":2.0,"y":-69},{"c":11,"x":2.1,"y":-69.5},{"c":11,"x":2.2,"y":-71},{"c":11,"x":2.3,"y":-72},{"c":11,"x":2.4,"y":-73.5},{"c":11,"x":2.5,"y":-75},
{"c":12,"x":0,"y":-40},{"c":12,"x":0.015,"y":-46},{"c":12,"x":0.03,"y":-57},{"c":12,"x":0.045,"y":-50},{"c":12,"x":0.06,"y":-43},{"c":12,"x":0.08,"y":-44.5},{"c":12,"x":0.12,"y":-45},{"c":12,"x":0.17,"y":-45.5},{"c":12,"x":0.2,"y":-47},{"c":12,"x":0.25,"y":-49.5},{"c":12,"x":0.3,"y":-51},{"c":12,"x":0.4,"y":-53.5},{"c":12,"x":0.5,"y":-56},{"c":12,"x":0.6,"y":-58.5},{"c":12,"x":0.7,"y":-60},{"c":12,"x":0.8,"y":-60.5},{"c":12,"x":0.9,"y":-59.5},{"c":12,"x":1.0,"y":-59},{"c":12,"x":1.1,"y":-60},{"c":12,"x":1.2,"y":-62},{"c":12,"x":1.3,"y":-63.5},{"c":12,"x":1.4,"y":-64},{"c":12,"x":1.5,"y":-63},{"c":12,"x":1.6,"y":-62},{"c":12,"x":1.7,"y":-62.5},{"c":12,"x":1.8,"y":-64},{"c":12,"x":1.9,"y":-65.5},{"c":12,"x":2.0,"y":-67},{"c":12,"x":2.1,"y":-67.5},{"c":12,"x":2.2,"y":-66.5},{"c":12,"x":2.3,"y":-66},{"c":12,"x":2.4,"y":-67},{"c":12,"x":2.5,"y":-68.5},
{"c":13,"x":0,"y":-41},{"c":13,"x":0.02,"y":-51},{"c":13,"x":0.035,"y":-62},{"c":13,"x":0.05,"y":-57},{"c":13,"x":0.07,"y":-55},{"c":13,"x":0.09,"y":-58.5},{"c":13,"x":0.12,"y":-59.5},{"c":13,"x":0.17,"y":-60},{"c":13,"x":0.2,"y":-62},{"c":13,"x":0.22,"y":-68},{"c":13,"x":0.235,"y":-72.5},{"c":13,"x":0.25,"y":-68},{"c":13,"x":0.28,"y":-63},{"c":13,"x":0.33,"y":-60},{"c":13,"x":0.4,"y":-59.5},{"c":13,"x":0.5,"y":-60.5},{"c":13,"x":0.6,"y":-62},{"c":13,"x":0.7,"y":-63},{"c":13,"x":0.8,"y":-62.5},{"c":13,"x":0.9,"y":-61},{"c":13,"x":1.0,"y":-61.5},{"c":13,"x":1.1,"y":-63},{"c":13,"x":1.2,"y":-64.5},{"c":13,"x":1.3,"y":-65.5},{"c":13,"x":1.4,"y":-65},{"c":13,"x":1.5,"y":-64},{"c":13,"x":1.6,"y":-64.5},{"c":13,"x":1.7,"y":-66},{"c":13,"x":1.8,"y":-67.5},{"c":13,"x":1.9,"y":-69},{"c":13,"x":2.0,"y":-70.5},{"c":13,"x":2.1,"y":-71},{"c":13,"x":2.2,"y":-70},{"c":13,"x":2.3,"y":-69.5},{"c":13,"x":2.4,"y":-71},{"c":13,"x":2.5,"y":-73},
{"c":14,"x":0,"y":-40.5},{"c":14,"x":0.02,"y":-50},{"c":14,"x":0.03,"y":-58},{"c":14,"x":0.045,"y":-54},{"c":14,"x":0.065,"y":-50},{"c":14,"x":0.09,"y":-54},{"c":14,"x":0.12,"y":-54.5},{"c":14,"x":0.17,"y":-55},{"c":14,"x":0.2,"y":-57.5},{"c":14,"x":0.22,"y":-66},{"c":14,"x":0.23,"y":-71.5},{"c":14,"x":0.25,"y":-65},{"c":14,"x":0.28,"y":-58},{"c":14,"x":0.33,"y":-54},{"c":14,"x":0.4,"y":-55},{"c":14,"x":0.5,"y":-57},{"c":14,"x":0.6,"y":-59},{"c":14,"x":0.7,"y":-61.5},{"c":14,"x":0.8,"y":-63.5},{"c":14,"x":0.9,"y":-62},{"c":14,"x":1.0,"y":-60},{"c":14,"x":1.1,"y":-59.5},{"c":14,"x":1.2,"y":-61},{"c":14,"x":1.3,"y":-62},{"c":14,"x":1.4,"y":-61.5},{"c":14,"x":1.5,"y":-62.5},{"c":14,"x":1.6,"y":-64.5},{"c":14,"x":1.7,"y":-66},{"c":14,"x":1.8,"y":-66},{"c":14,"x":1.9,"y":-65},{"c":14,"x":2.0,"y":-64.5},{"c":14,"x":2.1,"y":-65.5},{"c":14,"x":2.2,"y":-67},{"c":14,"x":2.3,"y":-69},{"c":14,"x":2.4,"y":-70},{"c":14,"x":2.5,"y":-70},
{"c":15,"x":0,"y":-42},{"c":15,"x":0.02,"y":-53},{"c":15,"x":0.03,"y":-63},{"c":15,"x":0.045,"y":-59},{"c":15,"x":0.065,"y":-57},{"c":15,"x":0.09,"y":-63.5},{"c":15,"x":0.12,"y":-64.5},{"c":15,"x":0.17,"y":-65},{"c":15,"x":0.2,"y":-66.5},{"c":15,"x":0.22,"y":-70},{"c":15,"x":0.235,"y":-73},{"c":15,"x":0.255,"y":-69},{"c":15,"x":0.28,"y":-67.5},{"c":15,"x":0.4,"y":-67.6},{"c":15,"x":0.5,"y":-67.8},{"c":15,"x":0.6,"y":-67.3},{"c":15,"x":0.7,"y":-66.8},{"c":15,"x":0.78,"y":-65},{"c":15,"x":0.85,"y":-62.5},{"c":15,"x":0.95,"y":-60},{"c":15,"x":1.05,"y":-59.5},{"c":15,"x":1.15,"y":-60.5},{"c":15,"x":1.25,"y":-62.5},{"c":15,"x":1.35,"y":-64},{"c":15,"x":1.45,"y":-65.5},{"c":15,"x":1.55,"y":-66.5},{"c":15,"x":1.65,"y":-66},{"c":15,"x":1.75,"y":-65},{"c":15,"x":1.85,"y":-65},{"c":15,"x":1.95,"y":-66.5},{"c":15,"x":2.05,"y":-68},{"c":15,"x":2.15,"y":-69},{"c":15,"x":2.25,"y":-70},{"c":15,"x":2.35,"y":-71.5},{"c":15,"x":2.45,"y":-72.5},{"c":15,"x":2.5,"y":-73},
{"c":16,"x":0,"y":-40},{"c":16,"x":0.02,"y":-48},{"c":16,"x":0.035,"y":-56},{"c":16,"x":0.05,"y":-50},{"c":16,"x":0.07,"y":-46},{"c":16,"x":0.09,"y":-49},{"c":16,"x":0.12,"y":-49.5},{"c":16,"x":0.17,"y":-50},{"c":16,"x":0.2,"y":-52},{"c":16,"x":0.22,"y":-62},{"c":16,"x":0.235,"y":-70},{"c":16,"x":0.25,"y":-64},{"c":16,"x":0.28,"y":-57},{"c":16,"x":0.32,"y":-53},{"c":16,"x":0.4,"y":-54},{"c":16,"x":0.5,"y":-56.5},{"c":16,"x":0.6,"y":-58},{"c":16,"x":0.7,"y":-58.5},{"c":16,"x":0.8,"y":-58},{"c":16,"x":0.9,"y":-57.5},{"c":16,"x":1.0,"y":-58.5},{"c":16,"x":1.1,"y":-60.5},{"c":16,"x":1.2,"y":-62.5},{"c":16,"x":1.3,"y":-62},{"c":16,"x":1.4,"y":-61},{"c":16,"x":1.5,"y":-61},{"c":16,"x":1.6,"y":-62},{"c":16,"x":1.7,"y":-63.5},{"c":16,"x":1.8,"y":-65},{"c":16,"x":1.9,"y":-66},{"c":16,"x":2.0,"y":-66},{"c":16,"x":2.1,"y":-65},{"c":16,"x":2.2,"y":-65.5},{"c":16,"x":2.3,"y":-67},{"c":16,"x":2.4,"y":-69},{"c":16,"x":2.5,"y":-70},
{"c":17,"x":0,"y":-41},{"c":17,"x":0.02,"y":-52},{"c":17,"x":0.035,"y":-62.5},{"c":17,"x":0.05,"y":-60},{"c":17,"x":0.07,"y":-63},{"c":17,"x":0.09,"y":-67},{"c":17,"x":0.12,"y":-67.5},{"c":17,"x":0.17,"y":-68},{"c":17,"x":0.2,"y":-69.5},{"c":17,"x":0.22,"y":-72},{"c":17,"x":0.24,"y":-71},{"c":17,"x":0.27,"y":-65},{"c":17,"x":0.3,"y":-61},{"c":17,"x":0.35,"y":-58.5},{"c":17,"x":0.45,"y":-60},{"c":17,"x":0.55,"y":-62.5},{"c":17,"x":0.65,"y":-64.5},{"c":17,"x":0.75,"y":-66},{"c":17,"x":0.85,"y":-67},{"c":17,"x":0.95,"y":-66},{"c":17,"x":1.05,"y":-64.5},{"c":17,"x":1.15,"y":-64},{"c":17,"x":1.25,"y":-65},{"c":17,"x":1.35,"y":-66.5},{"c":17,"x":1.45,"y":-67.5},{"c":17,"x":1.55,"y":-68.5},{"c":17,"x":1.65,"y":-69},{"c":17,"x":1.75,"y":-68.5},{"c":17,"x":1.85,"y":-67.5},{"c":17,"x":1.95,"y":-67},{"c":17,"x":2.05,"y":-68},{"c":17,"x":2.15,"y":-69.5},{"c":17,"x":2.25,"y":-71},{"c":17,"x":2.35,"y":-72},{"c":17,"x":2.45,"y":-72},{"c":17,"x":2.5,"y":-72.5},
{"c":18,"x":0,"y":-40.5},{"c":18,"x":0.02,"y":-44},{"c":18,"x":0.03,"y":-50},{"c":18,"x":0.045,"y":-47},{"c":18,"x":0.06,"y":-41},{"c":18,"x":0.09,"y":-40.2},{"c":18,"x":0.14,"y":-41.5},{"c":18,"x":0.2,"y":-44},{"c":18,"x":0.3,"y":-47.5},{"c":18,"x":0.4,"y":-50},{"c":18,"x":0.5,"y":-51.5},{"c":18,"x":0.6,"y":-53},{"c":18,"x":0.7,"y":-54},{"c":18,"x":0.8,"y":-54.5},{"c":18,"x":0.9,"y":-55.5},{"c":18,"x":1.0,"y":-56.5},{"c":18,"x":1.1,"y":-57.5},{"c":18,"x":1.2,"y":-58.5},{"c":18,"x":1.3,"y":-59},{"c":18,"x":1.4,"y":-59},{"c":18,"x":1.5,"y":-59.5},{"c":18,"x":1.6,"y":-61},{"c":18,"x":1.7,"y":-62},{"c":18,"x":1.8,"y":-62.5},{"c":18,"x":1.9,"y":-62},{"c":18,"x":2.0,"y":-62.5},{"c":18,"x":2.1,"y":-64},{"c":18,"x":2.2,"y":-65.5},{"c":18,"x":2.3,"y":-66.5},{"c":18,"x":2.4,"y":-66.5},{"c":18,"x":2.5,"y":-67}
]
},
"vconcat": [
{
"width": 499, "height": 242,
"resolve": {"axis": {"x": "independent", "y": "independent"}},
"layer": [
{"data": {"name": "t"},
 "mark": {"type": "line", "strokeDash": [1.4, 2], "strokeWidth": 1.3, "color": "#8a8a8a", "interpolate": "monotone", "clip": true},
 "encoding": {
  "x": {"field": "x", "type": "quantitative", "scale": {"domain": [0, 2.5], "nice": false, "zero": false},
   "axis": {"values": [0,0.125,0.25,0.375,0.5,0.625,0.75,0.875,1,1.125,1.25,1.375,1.5,1.625,1.75,1.875,2,2.125,2.25,2.375,2.5], "orient": "bottom", "domain": false, "labels": false, "title": null,
    "grid": true, "gridColor": "#000", "gridDash": [1, 3], "gridWidth": 1,
    "gridOpacity": {"condition": {"test": "abs(datum.value*4-round(datum.value*4))>0.01", "value": 0}, "value": 0.85},
    "ticks": true, "tickColor": "#000", "tickWidth": 1,
    "tickSize": {"condition": {"test": "abs(datum.value*4-round(datum.value*4))>0.01", "value": -3}, "value": -6}}},
  "y": {"field": "y", "type": "quantitative", "scale": {"domain": [-75, -40], "nice": false, "zero": false},
   "axis": {"values": [-75,-72.5,-70,-67.5,-65,-62.5,-60,-57.5,-55,-52.5,-50,-47.5,-45,-42.5,-40], "orient": "left", "domain": false,
    "labelExpr": "(datum.value % 5 != 0 || datum.value == -75) ? '' : format(datum.value, 'd')",
    "labelFont": "Liberation Sans", "labelFontSize": 18, "labelColor": "#000", "labelPadding": 14, "labelOverlap": false, "labelFlush": false,
    "grid": true, "gridColor": "#000", "gridDash": [1, 3], "gridWidth": 1,
    "gridOpacity": {"condition": {"test": "datum.value % 5 != 0", "value": 0}, "value": 0.85},
    "ticks": true, "tickColor": "#000", "tickWidth": 1,
    "tickSize": {"condition": {"test": "datum.value % 5 != 0", "value": -3}, "value": -6},
    "title": "propagation loss, dB", "titleFont": "Liberation Sans", "titleFontSize": 19, "titleFontWeight": "normal", "titleColor": "#000",
    "titleX": -65, "titleY": 242, "titleAngle": 270, "titleAlign": "center", "titleBaseline": "alphabetic"}},
  "detail": {"field": "c"}
 }},
{"data": {"name": "k"},
 "mark": {"type": "line", "color": "#111", "strokeWidth": 2.6, "interpolate": "monotone", "clip": true},
 "encoding": {
  "x": {"field": "x", "type": "quantitative",
   "axis": {"values": [0,0.125,0.25,0.375,0.5,0.625,0.75,0.875,1,1.125,1.25,1.375,1.5,1.625,1.75,1.875,2,2.125,2.25,2.375,2.5], "orient": "top", "domain": false, "labels": false, "title": null, "grid": false,
    "ticks": true, "tickColor": "#000", "tickWidth": 1,
    "tickSize": {"condition": {"test": "abs(datum.value*4-round(datum.value*4))>0.01", "value": -3}, "value": -6}}},
  "y": {"field": "y", "type": "quantitative",
   "axis": {"values": [-75,-72.5,-70,-67.5,-65,-62.5,-60,-57.5,-55,-52.5,-50,-47.5,-45,-42.5,-40], "orient": "right", "domain": false, "labels": false, "title": null, "grid": false,
    "ticks": true, "tickColor": "#000", "tickWidth": 1,
    "tickSize": {"condition": {"test": "datum.value % 5 != 0", "value": -3}, "value": -6}}}
 }},
{"data": {"values": [{"x1": 2.134, "x2": 2.425, "y1": -42.65, "y2": -47.23}]},
 "mark": {"type": "rect", "fill": "#fff", "stroke": "#000", "strokeWidth": 1.1},
 "encoding": {"x": {"field": "x1", "type": "quantitative", "axis": null}, "x2": {"field": "x2"}, "y": {"field": "y1", "type": "quantitative", "axis": null}, "y2": {"field": "y2"}}},
{"data": {"values": [{"x": 2.279, "y": -45.8, "t": "SSP1"}]},
 "mark": {"type": "text", "font": "Liberation Sans", "fontSize": 17, "align": "center", "baseline": "alphabetic", "color": "#000"},
 "encoding": {"x": {"field": "x", "type": "quantitative", "axis": null}, "y": {"field": "y", "type": "quantitative", "axis": null}, "text": {"field": "t"}}}
]
},
{
"width": 499, "height": 242,
"resolve": {"axis": {"x": "independent", "y": "independent"}},
"layer": [
{"data": {"name": "b"},
 "mark": {"type": "line", "strokeDash": [1.4, 2], "strokeWidth": 1.3, "color": "#8a8a8a", "interpolate": "monotone", "clip": true},
 "encoding": {
  "x": {"field": "x", "type": "quantitative", "scale": {"domain": [0, 2.5], "nice": false, "zero": false},
   "axis": {"values": [0,0.125,0.25,0.375,0.5,0.625,0.75,0.875,1,1.125,1.25,1.375,1.5,1.625,1.75,1.875,2,2.125,2.25,2.375,2.5], "orient": "bottom", "domain": false,
    "labelExpr": "abs(datum.value*4-round(datum.value*4))>0.01 ? '' : format(datum.value, '~g')",
    "labelFont": "Liberation Sans", "labelFontSize": 18, "labelColor": "#000", "labelPadding": 16, "labelOverlap": false, "labelFlush": false,
    "grid": true, "gridColor": "#000", "gridDash": [1, 3], "gridWidth": 1,
    "gridOpacity": {"condition": {"test": "abs(datum.value*4-round(datum.value*4))>0.01", "value": 0}, "value": 0.85},
    "ticks": true, "tickColor": "#000", "tickWidth": 1,
    "tickSize": {"condition": {"test": "abs(datum.value*4-round(datum.value*4))>0.01", "value": -3}, "value": -6},
    "title": "range, km", "titleFont": "Liberation Sans", "titleFontSize": 19, "titleFontWeight": "normal", "titleColor": "#000",
    "titleY": 51, "titleBaseline": "alphabetic"}},
  "y": {"field": "y", "type": "quantitative", "scale": {"domain": [-75, -40], "nice": false, "zero": false},
   "axis": {"values": [-75,-72.5,-70,-67.5,-65,-62.5,-60,-57.5,-55,-52.5,-50,-47.5,-45,-42.5,-40], "orient": "left", "domain": false,
    "labelExpr": "datum.value % 5 != 0 ? '' : format(datum.value, 'd')",
    "labelFont": "Liberation Sans", "labelFontSize": 18, "labelColor": "#000", "labelPadding": 14, "labelOverlap": false, "labelFlush": false,
    "grid": true, "gridColor": "#000", "gridDash": [1, 3], "gridWidth": 1,
    "gridOpacity": {"condition": {"test": "datum.value % 5 != 0", "value": 0}, "value": 0.85},
    "ticks": true, "tickColor": "#000", "tickWidth": 1,
    "tickSize": {"condition": {"test": "datum.value % 5 != 0", "value": -3}, "value": -6},
    "title": null}},
  "detail": {"field": "c"}
 }},
{"data": {"name": "k"},
 "mark": {"type": "line", "color": "#111", "strokeWidth": 2.6, "interpolate": "monotone", "clip": true},
 "encoding": {
  "x": {"field": "x", "type": "quantitative",
   "axis": {"values": [0,0.125,0.25,0.375,0.5,0.625,0.75,0.875,1,1.125,1.25,1.375,1.5,1.625,1.75,1.875,2,2.125,2.25,2.375,2.5], "orient": "top", "domain": false, "labels": false, "title": null, "grid": false,
    "ticks": true, "tickColor": "#000", "tickWidth": 1,
    "tickSize": {"condition": {"test": "abs(datum.value*4-round(datum.value*4))>0.01", "value": -3}, "value": -6}}},
  "y": {"field": "y", "type": "quantitative",
   "axis": {"values": [-75,-72.5,-70,-67.5,-65,-62.5,-60,-57.5,-55,-52.5,-50,-47.5,-45,-42.5,-40], "orient": "right", "domain": false, "labels": false, "title": null, "grid": false,
    "ticks": true, "tickColor": "#000", "tickWidth": 1,
    "tickSize": {"condition": {"test": "datum.value % 5 != 0", "value": -3}, "value": -6}}}
 }},
{"data": {"values": [{"x1": 2.134, "x2": 2.425, "y1": -42.65, "y2": -47.23}]},
 "mark": {"type": "rect", "fill": "#fff", "stroke": "#000", "strokeWidth": 1.1},
 "encoding": {"x": {"field": "x1", "type": "quantitative", "axis": null}, "x2": {"field": "x2"}, "y": {"field": "y1", "type": "quantitative", "axis": null}, "y2": {"field": "y2"}}},
{"data": {"values": [{"x": 2.279, "y": -45.8, "t": "SSP2"}]},
 "mark": {"type": "text", "font": "Liberation Sans", "fontSize": 17, "align": "center", "baseline": "alphabetic", "color": "#000"},
 "encoding": {"x": {"field": "x", "type": "quantitative", "axis": null}, "y": {"field": "y", "type": "quantitative", "axis": null}, "text": {"field": "t"}}}
]
}
]
}
